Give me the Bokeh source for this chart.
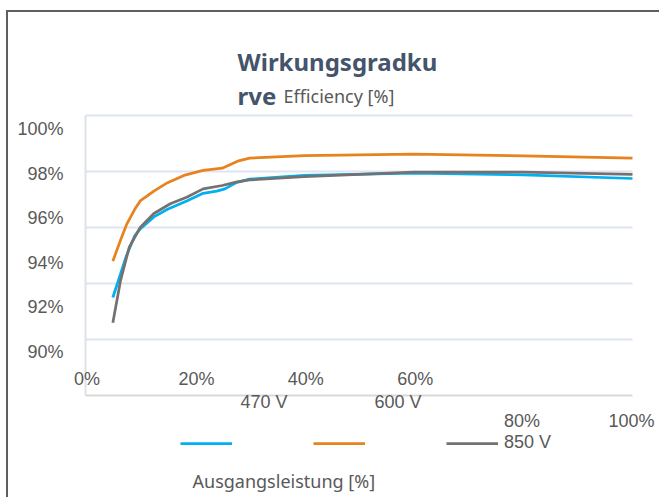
from bokeh.plotting import figure
from bokeh.models import Range1d, Label, Legend, LegendItem
from bokeh.core.properties import value
from bokeh.embed import file_html
from bokeh.resources import INLINE

# ---- data ----
load_470 = [5, 6.5, 7.5, 9, 10, 12.5, 15, 18.5, 21.5, 24, 25.5, 27.5, 30, 40, 60, 80, 100]
eff_470 = [93.5, 94.4, 95.0, 95.7, 95.95, 96.38, 96.65, 96.95, 97.22, 97.3, 97.38, 97.6, 97.73, 97.86, 97.94, 97.88, 97.75]

load_600 = [5, 6.5, 7.5, 9, 10, 12.5, 15, 18, 21.5, 25, 28, 30, 40, 60, 80, 100]
eff_600 = [94.8, 95.6, 96.1, 96.65, 96.95, 97.3, 97.6, 97.86, 98.04, 98.12, 98.38, 98.48, 98.57, 98.62, 98.56, 98.48]

load_850 = [5, 6.4, 8, 10, 12.5, 15.5, 18.5, 21.5, 25, 27.5, 30, 40, 60, 80, 100]
eff_850 = [92.6, 94.1, 95.3, 96.0, 96.5, 96.85, 97.08, 97.38, 97.5, 97.62, 97.7, 97.82, 97.98, 97.98, 97.9]

y_ticks = [100, 98, 96, 94, 92, 90]
grid_ticks = [92, 94, 96, 98, 100]
x_ticks_upper = [0, 20, 40, 60]
x_ticks_lower = [80, 100]
series_names = ["470 V", "600 V", "850 V"]
colors = ["#00b0f0", "#e8821e", "#767171"]

# scale: 5.47 px per % load, 28 px per % efficiency; plot area left at page x 85, 100% at page y 115
PX_X, PX_Y = 5.47, 28.0
W, H = 653, 487
x0_page, y0_page = 8, 12


def xd(px):
    return (px - 85) / PX_X


def yd(py):
    return 100 - (py - 115) / PX_Y


p = figure(width=W, height=H, output_backend="svg", toolbar_location=None,
           x_range=Range1d(xd(x0_page), xd(x0_page + W)),
           y_range=Range1d(yd(y0_page + H), yd(y0_page)),
           x_axis_location=None, y_axis_location=None,
           min_border=0, background_fill_color="white", border_fill_color="white")
p.outline_line_color = None
p.styles = {"border-left": "2px solid #5f5f5f", "border-top": "2px solid #5f5f5f",
            "margin-left": "6px", "margin-top": "10px"}
for g in p.xgrid + p.ygrid:
    g.visible = False

FONT_NUM = value("Liberation Sans")
GRAY_TXT = "#595959"

# gridlines and axis lines of the plot area
p.segment(x0=[min(x_ticks_upper)] * len(grid_ticks), x1=[max(x_ticks_lower)] * len(grid_ticks),
          y0=grid_ticks, y1=grid_ticks, line_color="#dde5f2", line_width=2)
p.segment(x0=[0], x1=[0], y0=[min(y_ticks)], y1=[max(y_ticks)], line_color="#dde1ea", line_width=2)
p.segment(x0=[0], x1=[100], y0=[min(y_ticks)], y1=[min(y_ticks)], line_color="#d9d9d9", line_width=2)

# y tick labels (placed as in the reference, 22.3 px apart starting at page y 128.5)
ylab_y = [yd(128.5 + (100 - v) * 22.3) for v in y_ticks]
p.text(x=[0] * len(y_ticks), y=ylab_y, text=[f"{v}%" for v in y_ticks], x_offset=-22,
       text_align="right", text_baseline="middle", text_font=FONT_NUM,
       text_font_size="18px", text_color=GRAY_TXT)

# x tick labels
p.text(x=x_ticks_upper, y=[yd(378.5)] * len(x_ticks_upper), text=[f"{t}%" for t in x_ticks_upper],
       x_offset=1.5, text_align="center", text_baseline="middle", text_font=FONT_NUM,
       text_font_size="18px", text_color=GRAY_TXT)
p.text(x=x_ticks_lower, y=[yd(420.5)] * len(x_ticks_lower), text=[f"{t}%" for t in x_ticks_lower],
       x_offset=-1, text_align="center", text_baseline="middle", text_font=FONT_NUM,
       text_font_size="18px", text_color=GRAY_TXT)

# series
r1 = p.line(load_470, eff_470, line_color=colors[0], line_width=2.75)
r2 = p.line(load_600, eff_600, line_color=colors[1], line_width=2.75)
r3 = p.line(load_850, eff_850, line_color=colors[2], line_width=2.75)

legend = Legend(items=[LegendItem(label=" ", renderers=[r1]),
                       LegendItem(label=" ", renderers=[r2]),
                       LegendItem(label=series_names[2], renderers=[r3])],
                orientation="horizontal", location=(180 - x0_page, (y0_page + H) - 453),
                padding=0, margin=0, spacing=55, glyph_width=52, glyph_height=18,
                label_height=18, label_standoff=6,
                label_text_font="Liberation Sans", label_text_font_size="18px",
                label_text_color=GRAY_TXT,
                border_line_color=None, background_fill_alpha=0)
p.add_layout(legend)

# displaced legend labels
p.text(x=[xd(263.5), xd(397.5)], y=[yd(401)] * 2, text=series_names[:2],
       text_align="center", text_baseline="middle", text_font=FONT_NUM,
       text_font_size="18px", text_color=GRAY_TXT)

# title (wrapped as in the reference)
p.add_layout(Label(x=xd(237), y=yd(61), text="Wirkungsgradku", text_align="left",
                   text_baseline="alphabetic", text_font="Noto Sans",
                   text_font_style="bold", text_font_size="24px", text_color="#44546a"))
p.add_layout(Label(x=xd(237), y=yd(95), text="rve", text_align="left",
                   text_baseline="alphabetic", text_font="Noto Sans",
                   text_font_style="bold", text_font_size="24px", text_color="#44546a"))
p.add_layout(Label(x=xd(283), y=yd(95), text="Efficiency [%]", text_align="left",
                   text_baseline="alphabetic", text_font="Noto Sans",
                   text_font_size="18px", text_color=GRAY_TXT))

# x axis title
p.add_layout(Label(x=xd(192), y=yd(480), text="Ausgangsleistung [%]", text_align="left",
                   text_baseline="alphabetic", text_font="Noto Sans",
                   text_font_size="18px", text_color=GRAY_TXT))

open("out.html", "w").write(file_html(p, INLINE))
